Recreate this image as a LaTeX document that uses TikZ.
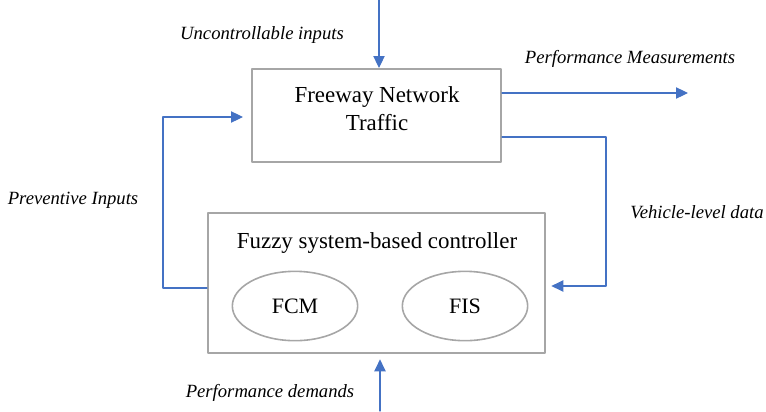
\documentclass[tikz,border=0pt]{standalone}
\usepackage{fontspec}
\setmainfont{Liberation Serif}
\usetikzlibrary{arrows.meta,shapes.geometric}

\definecolor{flowblue}{HTML}{4472C4}
\definecolor{boxgray}{HTML}{A6A6A6}

\begin{document}
\begin{tikzpicture}[line cap=round,line join=round,>={Triangle[length=9pt,width=8.5pt]},x=0.75pt,y=-0.75pt]
			\useasboundingbox (0,0) rectangle (766,411);
			\tikzset{
				block/.style={draw=boxgray,line width=1.5pt,inner sep=0pt},
				unit/.style={draw=boxgray,line width=1.2pt,ellipse,minimum width=94pt,minimum height=52pt,font=\fontsize{16.5}{18}\selectfont},
				flow/.style={draw=flowblue,line width=0.8pt,->},
				lbl/.style={font=\fontsize{14}{16}\selectfont\itshape}
			}
			% boxes
			\node[block,minimum width=186.75pt,minimum height=69.75pt] (traffic) at (376.5,115.5) {};
			\node[align=center,font=\fontsize{17.2}{21}\selectfont] (traffictxt) at (377,108.5) {Freeway Network\\Traffic};
			\node[block,minimum width=252.75pt,minimum height=105pt] (ctrl) at (376.5,283) {};
			\node[font=\fontsize{17.2}{19}\selectfont] (ctrltxt) at (377,243) {Fuzzy system-based controller};
			\node[unit] (fcm) at (295,306) {FCM};
			\node[unit] (fis) at (465,306) {FIS};
			% free ends
			\coordinate (top) at (379,0);
			\coordinate (pmend) at (688,93);
			\coordinate (bot) at (380,411);
			\coordinate (rcorner) at (606,137);
			\coordinate (lcorner) at (163,288);
			% connectors
			\draw[flow] (top) -- (traffic.north -| top);
			\draw[flow] (traffic.east |- pmend) -- (pmend);
			\draw[flow] (traffic.east |- rcorner) -- (rcorner) |- ([xshift=4pt]ctrl.east |- 0,286);
			\draw[flow] (ctrl.west |- lcorner) -- (lcorner) |- ([xshift=-6pt]traffic.west |- 0,117);
			\draw[flow,shorten >=4pt] (bot) -- (ctrl.south -| bot);
			% labels
			\node[lbl] (unc) at (262,35) {Uncontrollable inputs};
			\node[lbl] (perf) at (630,59) {Performance Measurements};
			\node[lbl] (prev) at (73,200) {Preventive Inputs};
			\node[lbl] (veh) at (697,212) {Vehicle-level data};
			\node[lbl] (dem) at (270,393) {Performance demands};
		\end{tikzpicture}
\end{document}
